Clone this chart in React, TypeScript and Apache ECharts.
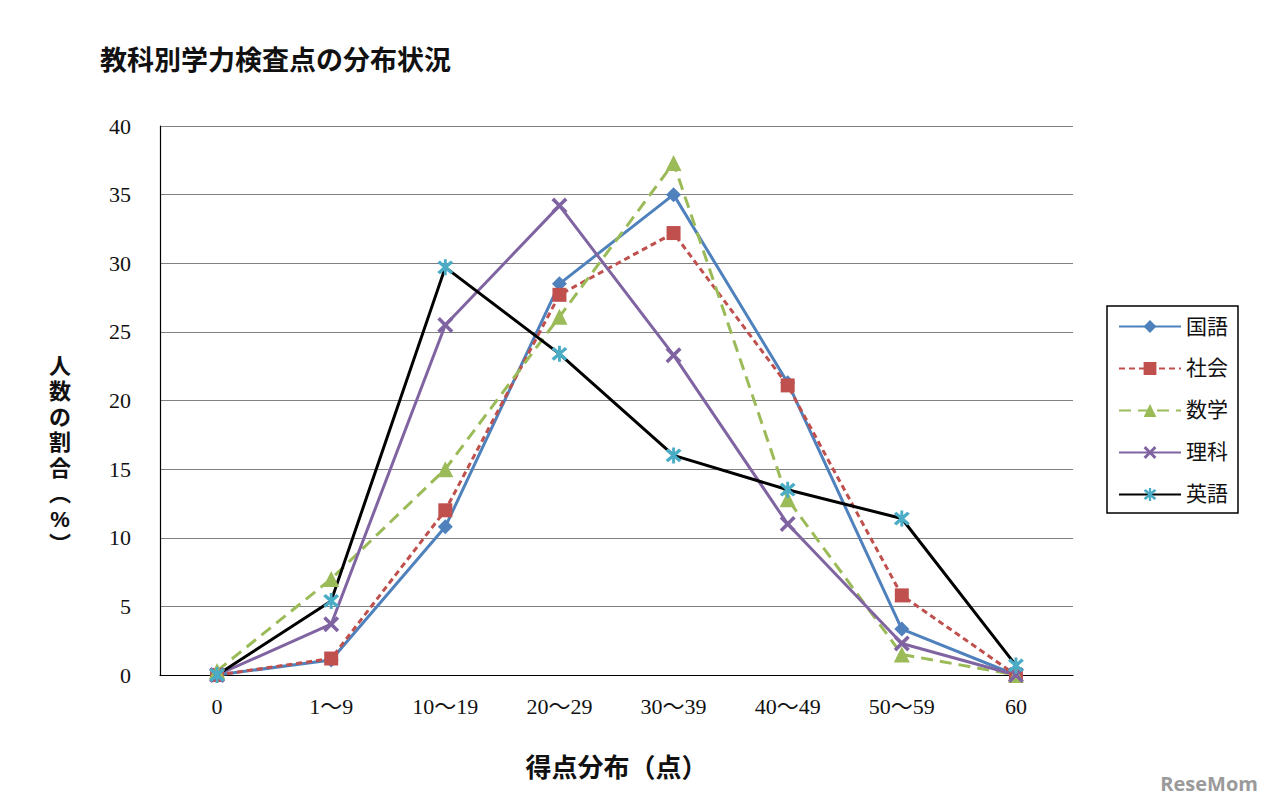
import React, { useEffect, useRef } from "react";
import * as echarts from "echarts";

const categories = ["0", "1～9", "10～19", "20～29", "30～39", "40～49", "50～59", "60"];
const kokugo = [0, 1.1, 10.8, 28.5, 35.0, 21.3, 3.35, 0];
const shakai = [0, 1.2, 12.0, 27.7, 32.2, 21.1, 5.8, 0];
const sugaku = [0.3, 7.0, 15.0, 26.1, 37.3, 12.8, 1.5, 0];
const rika = [0, 3.7, 25.5, 34.2, 23.3, 11.0, 2.3, 0];
const eigo = [0, 5.4, 29.7, 23.4, 16.0, 13.5, 11.4, 0.7];
const seriesNames = ["国語", "社会", "数学", "理科", "英語"];
const yTitleChars = ["人", "数", "の", "割", "合", "︵", "%", "︶"];

const X_PATH =
  "path://M0,1.6 L1.6,0 L5,3.4 L8.4,0 L10,1.6 L6.6,5 L10,8.4 L8.4,10 L5,6.6 L1.6,10 L0,8.4 L3.4,5 Z";
const AST_PATH =
  "path://M0,1.6 L1.6,0 L5,3.4 L8.4,0 L10,1.6 L6.6,5 L10,8.4 L8.4,10 L5,6.6 L1.6,10 L0,8.4 L3.4,5 Z M4.1,-0.8 L5.9,-0.8 L5.9,10.8 L4.1,10.8 Z";

const serif = "'Liberation Serif', 'DejaVu Serif', 'Noto Sans CJK JP', serif";
const gothic = "'Noto Sans CJK JP', sans-serif";

export default function App() {
  const ref = useRef<HTMLDivElement>(null);
  useEffect(() => {
    if (!ref.current) return;
    const chart = echarts.init(ref.current, undefined, { renderer: "svg" });
    const mk = (name: string, data: number[], color: string, markerColor: string, symbol: string, size: number, type: any) => ({
      name,
      type: "line",
      data,
      symbol,
      symbolSize: size,
      itemStyle: { color: markerColor },
      lineStyle: { color, width: 3, type },
      z: 3,
    });
    chart.setOption({
      animation: false,
      backgroundColor: "#ffffff",
      title: {
        text: "教科別学力検査点の分布状況",
        left: 95,
        top: 40,
        textStyle: { fontFamily: gothic, fontSize: 27, fontWeight: "bold", color: "#111" },
      },
      grid: { left: 160, right: 207, top: 126, bottom: 130, containLabel: false },
      legend: {
        orient: "vertical",
        left: 1107,
        top: 306,
        padding: [10, 10, 8, 11],
        itemWidth: 62,
        itemHeight: 16,
        itemGap: 21,
        borderColor: "#000",
        borderWidth: 1.5,
        data: seriesNames,
        textStyle: { fontFamily: serif, fontSize: 21, lineHeight: 20, color: "#111" },
      },
      xAxis: {
        type: "category",
        data: categories,
        boundaryGap: true,
        axisLine: { lineStyle: { color: "#000", width: 1.2 } },
        axisTick: { show: false },
        axisLabel: { fontFamily: serif, fontSize: 22, color: "#111", margin: 20 },
        name: "得点分布（点）",
        nameLocation: "middle",
        nameGap: 77,
        nameTextStyle: { fontFamily: gothic, fontSize: 26, fontWeight: "bold", color: "#111" },
      },
      yAxis: {
        type: "value",
        min: 0,
        max: 40,
        interval: 5,
        axisLine: { show: true, lineStyle: { color: "#000", width: 1.2 } },
        axisTick: { show: false },
        axisLabel: { fontFamily: serif, fontSize: 22, color: "#111", margin: 29 },
        splitLine: { lineStyle: { color: "#808080", width: 1 } },
      },
      series: [
        mk("国語", kokugo, "#4f81bd", "#4f81bd", "diamond", 15, "solid"),
        mk("社会", shakai, "#c0504d", "#c0504d", "rect", 14, [6, 4]),
        mk("数学", sugaku, "#9bbb59", "#9bbb59", "triangle", 16, [12, 7]),
        mk("理科", rika, "#8064a2", "#8064a2", X_PATH, 16, "solid"),
        mk("英語", eigo, "#000000", "#4bacc6", AST_PATH, 16, "solid"),
      ],
      graphic: [
        ...yTitleChars.map((ch, i) => ({
          type: "text",
          x: 60,
          y: 366 + i * 25.5,
          style: {
            text: ch,
            fontFamily: "'Liberation Sans', 'Noto Sans CJK JP', sans-serif",
            fontSize: 22,
            fontWeight: "bold",
            fill: "#111",
            align: "center",
            verticalAlign: "middle",
          },
        })),
        {
          type: "text",
          right: 22,
          bottom: 12,
          style: {
            text: "ReseMom",
            fontFamily: "'Open Sans', sans-serif",
            fontSize: 20,
            fontWeight: "bold",
            fill: "#9a9a9a",
          },
        },
      ],
    });
    return () => chart.dispose();
  }, []);
  return (
    <div
      ref={ref}
      style={{ position: "fixed", left: 0, top: 0, width: 1280, height: 805 }}
    />
  );
}
